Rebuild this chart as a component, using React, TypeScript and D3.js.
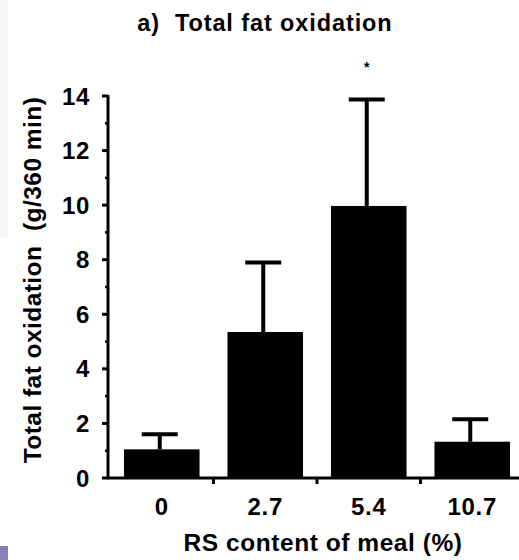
import * as d3 from "d3";

// RS content of meal (%) and total fat oxidation (g/360 min), mean + upper SD
const categories = ["0", "2.7", "5.4", "10.7"];
const means = [1.05, 5.35, 9.97, 1.33];
const errors = [0.55, 2.55, 3.9, 0.82];
const yTicks = [0, 2, 4, 6, 8, 10, 12, 14];
const yMinorTicks = [1, 3, 5, 7, 9, 11, 13];
const significant = ["5.4"];

const WIDTH = 519;
const HEIGHT = 560;
const FONT = "'Liberation Sans', Arial, Helvetica, sans-serif";

export default function App() {
  const x = d3
    .scaleBand()
    .domain(categories)
    .range([110, 524])
    .paddingInner(0.27)
    .paddingOuter(0.135);

  // plain bands, used for the tick marks between the groups
  const xEdges = d3.scaleBand().domain(categories).range([110, 524]).padding(0);

  const y = d3.scaleLinear().domain([0, 14]).range([478, 96]);

  const data = categories.map((c, i) => ({ name: c, value: means[i], err: errors[i] }));
  const capWidth = 36;

  return (
    <svg
      width={WIDTH}
      height={HEIGHT}
      style={{ position: "absolute", left: 0, top: 0, background: "#fff" }}
      fontFamily={FONT}
      fontWeight="bold"
    >
      {/* scanning leftovers on the left edge */}
      <rect x={0} y={0} width={8} height={238} fill="#f6f6f8" />
      <rect x={0} y={546} width={8} height={14} fill="#8c7fb8" />

      <text
        x={265}
        y={31}
        textAnchor="middle"
        fontSize={23.5}
        letterSpacing={0.9}
        style={{ whiteSpace: "pre" }}
      >
        {"a)  Total fat oxidation"}
      </text>

      {/* y axis */}
      <line x1={108} x2={108} y1={y(14) - 1} y2={y(0) + 1} stroke="#000" strokeWidth={3} />
      {yTicks.map((t) => (
        <g key={t}>
          <line x1={102} x2={108} y1={y(t)} y2={y(t)} stroke="#000" strokeWidth={3} />
          <text x={90} y={y(t)} dy="0.36em" textAnchor="end" fontSize={24} letterSpacing={0.7}>
            {t}
          </text>
        </g>
      ))}
      {yMinorTicks.map((t) => (
        <line key={t} x1={105} x2={108} y1={y(t)} y2={y(t)} stroke="#000" strokeWidth={2.5} />
      ))}
      <text
        transform={`translate(41,${280}) rotate(-90)`}
        textAnchor="middle"
        fontSize={24.5}
        letterSpacing={0.45}
        style={{ whiteSpace: "pre" }}
      >
        {"Total fat oxidation  (g/360 min)"}
      </text>

      {/* bars with upper error bars */}
      {data.map((d) => {
        const bx = x(d.name) ?? 0;
        const cx = bx + x.bandwidth() / 2;
        return (
          <g key={d.name}>
            <line
              x1={cx - 2}
              x2={cx - 2}
              y1={y(d.value)}
              y2={y(d.value + d.err)}
              stroke="#000"
              strokeWidth={4}
            />
            <line
              x1={cx - 2 - capWidth / 2}
              x2={cx - 2 + capWidth / 2}
              y1={y(d.value + d.err)}
              y2={y(d.value + d.err)}
              stroke="#000"
              strokeWidth={4}
            />
            <rect x={bx} y={y(d.value)} width={x.bandwidth()} height={y(0) - y(d.value)} fill="#000" />
            {significant.includes(d.name) && (
              <text x={cx - 2} y={72} textAnchor="middle" fontSize={14}>
                *
              </text>
            )}
            <text x={cx} y={515} textAnchor="middle" fontSize={24} letterSpacing={0.75}>
              {d.name}
            </text>
          </g>
        );
      })}

      {/* x axis */}
      <line x1={107} x2={WIDTH} y1={y(0)} y2={y(0)} stroke="#000" strokeWidth={3} />
      {categories.slice(1).map((c) => (
        <line
          key={c}
          x1={xEdges(c) ?? 0}
          x2={xEdges(c) ?? 0}
          y1={y(0)}
          y2={y(0) + 6}
          stroke="#000"
          strokeWidth={3}
        />
      ))}
      <text x={323} y={551} textAnchor="middle" fontSize={24.5} letterSpacing={0.55}>
        RS content of meal (%)
      </text>
    </svg>
  );
}
